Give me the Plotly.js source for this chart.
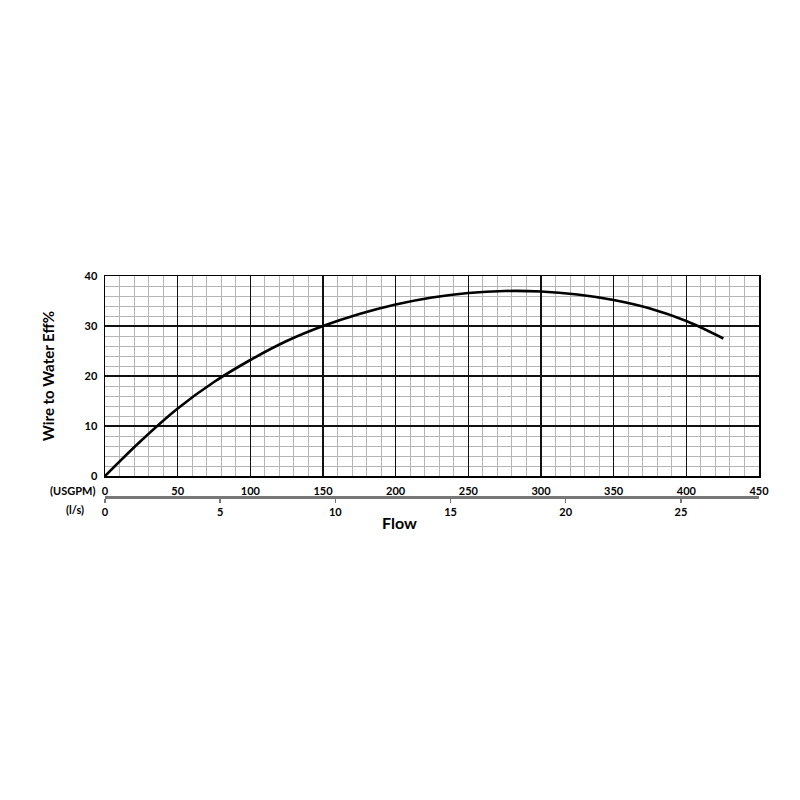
<!DOCTYPE html>
<html>
<head>
<meta charset="utf-8">
<script src="https://cdn.plot.ly/plotly-3.0.1.min.js"></script>
<style>
  html, body { margin: 0; padding: 0; background: #fff; }
  #graph { width: 800px; height: 800px; }
</style>
</head>
<body>
<div id="graph"></div>
<script>
// DATA
var flowGpm = [0, 25, 50, 75, 100, 125, 150, 175, 200, 225, 250, 275, 300, 325, 350, 375, 400, 425.5];
var effPct  = [0, 7.1, 13.5, 18.8, 23.2, 27.0, 30.0, 32.4, 34.3, 35.7, 36.6, 37.0, 36.9, 36.3, 35.2, 33.5, 31.0, 27.5];

var gpmTicks = [0, 50, 100, 150, 200, 250, 300, 350, 400, 450];
var lpsTicks = [0, 5, 10, 15, 20, 25];
var effTicks = [0, 10, 20, 30, 40];

// HELPERS
var GPM_PER_LPS = 15.8503;
var font = 'Lato, Open Sans, sans-serif';
var tickFont = {size: 11, family: font, weight: 'bold'};

// MAIN
var canvas = document.getElementById('graph');

var curve = {
	x: flowGpm, y: effPct,
	mode: 'lines',
	type: 'scatter',
	line: {color: '#000', width: 2.6, shape: 'spline', smoothing: 1},
	hoverinfo: 'x+y'
};

// invisible trace so the l/s axis gets drawn
var lpsTrace = {
	x: [0, 450 / GPM_PER_LPS], y: [0, 0],
	xaxis: 'x2', yaxis: 'y',
	mode: 'markers',
	marker: {opacity: 0},
	type: 'scatter',
	hoverinfo: 'skip'
};

var layout = {
	width: 800, height: 800,
	paper_bgcolor: '#fff',
	plot_bgcolor: '#fff',
	showlegend: false,
	margin: {l: 105, r: 41, t: 276, b: 303, pad: 0},
	font: {family: font, color: '#000'},
	xaxis: {
		range: [0, 450],
		tickvals: gpmTicks,
		ticktext: gpmTicks.map(String),
		tickfont: tickFont,
		showgrid: true, gridcolor: '#111', gridwidth: 1.3,
		minor: {dtick: 10, showgrid: true, gridcolor: '#b5b5b5', gridwidth: 1},
		showline: true, linecolor: '#000', linewidth: 1.5, mirror: true,
		ticks: 'outside', ticklen: 4, tickcolor: 'rgba(0,0,0,0)',
		zeroline: false,
		anchor: 'y',
		fixedrange: true
	},
	xaxis2: {
		overlaying: 'x',
		anchor: 'free', position: 0, side: 'bottom',
		range: [0, 450 / GPM_PER_LPS],
		tickvals: lpsTicks,
		ticktext: lpsTicks.map(String),
		tickfont: tickFont,
		showgrid: false, zeroline: false,
		showline: true, linecolor: '#777', linewidth: 2.5,
		ticks: 'outside', ticklen: 4, tickcolor: '#777', tickwidth: 1.5,
		fixedrange: true
	},
	yaxis: {
		domain: [21 / 221, 1],
		range: [0, 40],
		tickvals: effTicks,
		ticktext: effTicks.map(String),
		tickfont: tickFont,
		showgrid: true, gridcolor: '#111', gridwidth: 1.3,
		minor: {dtick: 2, showgrid: true, gridcolor: '#b5b5b5', gridwidth: 1},
		showline: true, linecolor: '#000', linewidth: 1.5, mirror: true,
		ticks: 'outside', ticklen: 4, tickcolor: 'rgba(0,0,0,0)',
		zeroline: false,
		title: {text: 'Wire to Water Eff%', font: {size: 15, family: font, weight: 'bold'}, standoff: 26},
		fixedrange: true
	},
	annotations: [
		{text: '(USGPM)', xref: 'paper', yref: 'paper', x: -0.012, y: 7 / 221,
		 xanchor: 'right', yanchor: 'middle', showarrow: false,
		 font: tickFont},
		{text: '(l/s)', xref: 'paper', yref: 'paper', x: -0.029, y: -12 / 221,
		 xanchor: 'right', yanchor: 'middle', showarrow: false,
		 font: tickFont},
		{text: 'Flow', xref: 'paper', yref: 'paper', x: 0.451, y: -25 / 221,
		 xanchor: 'center', yanchor: 'middle', showarrow: false,
		 font: {size: 16, family: font, weight: 'bold'}}
	]
};

Plotly.newPlot(canvas, [curve, lpsTrace], layout, {displayModeBar: false, staticPlot: true});
</script>
</body>
</html>
